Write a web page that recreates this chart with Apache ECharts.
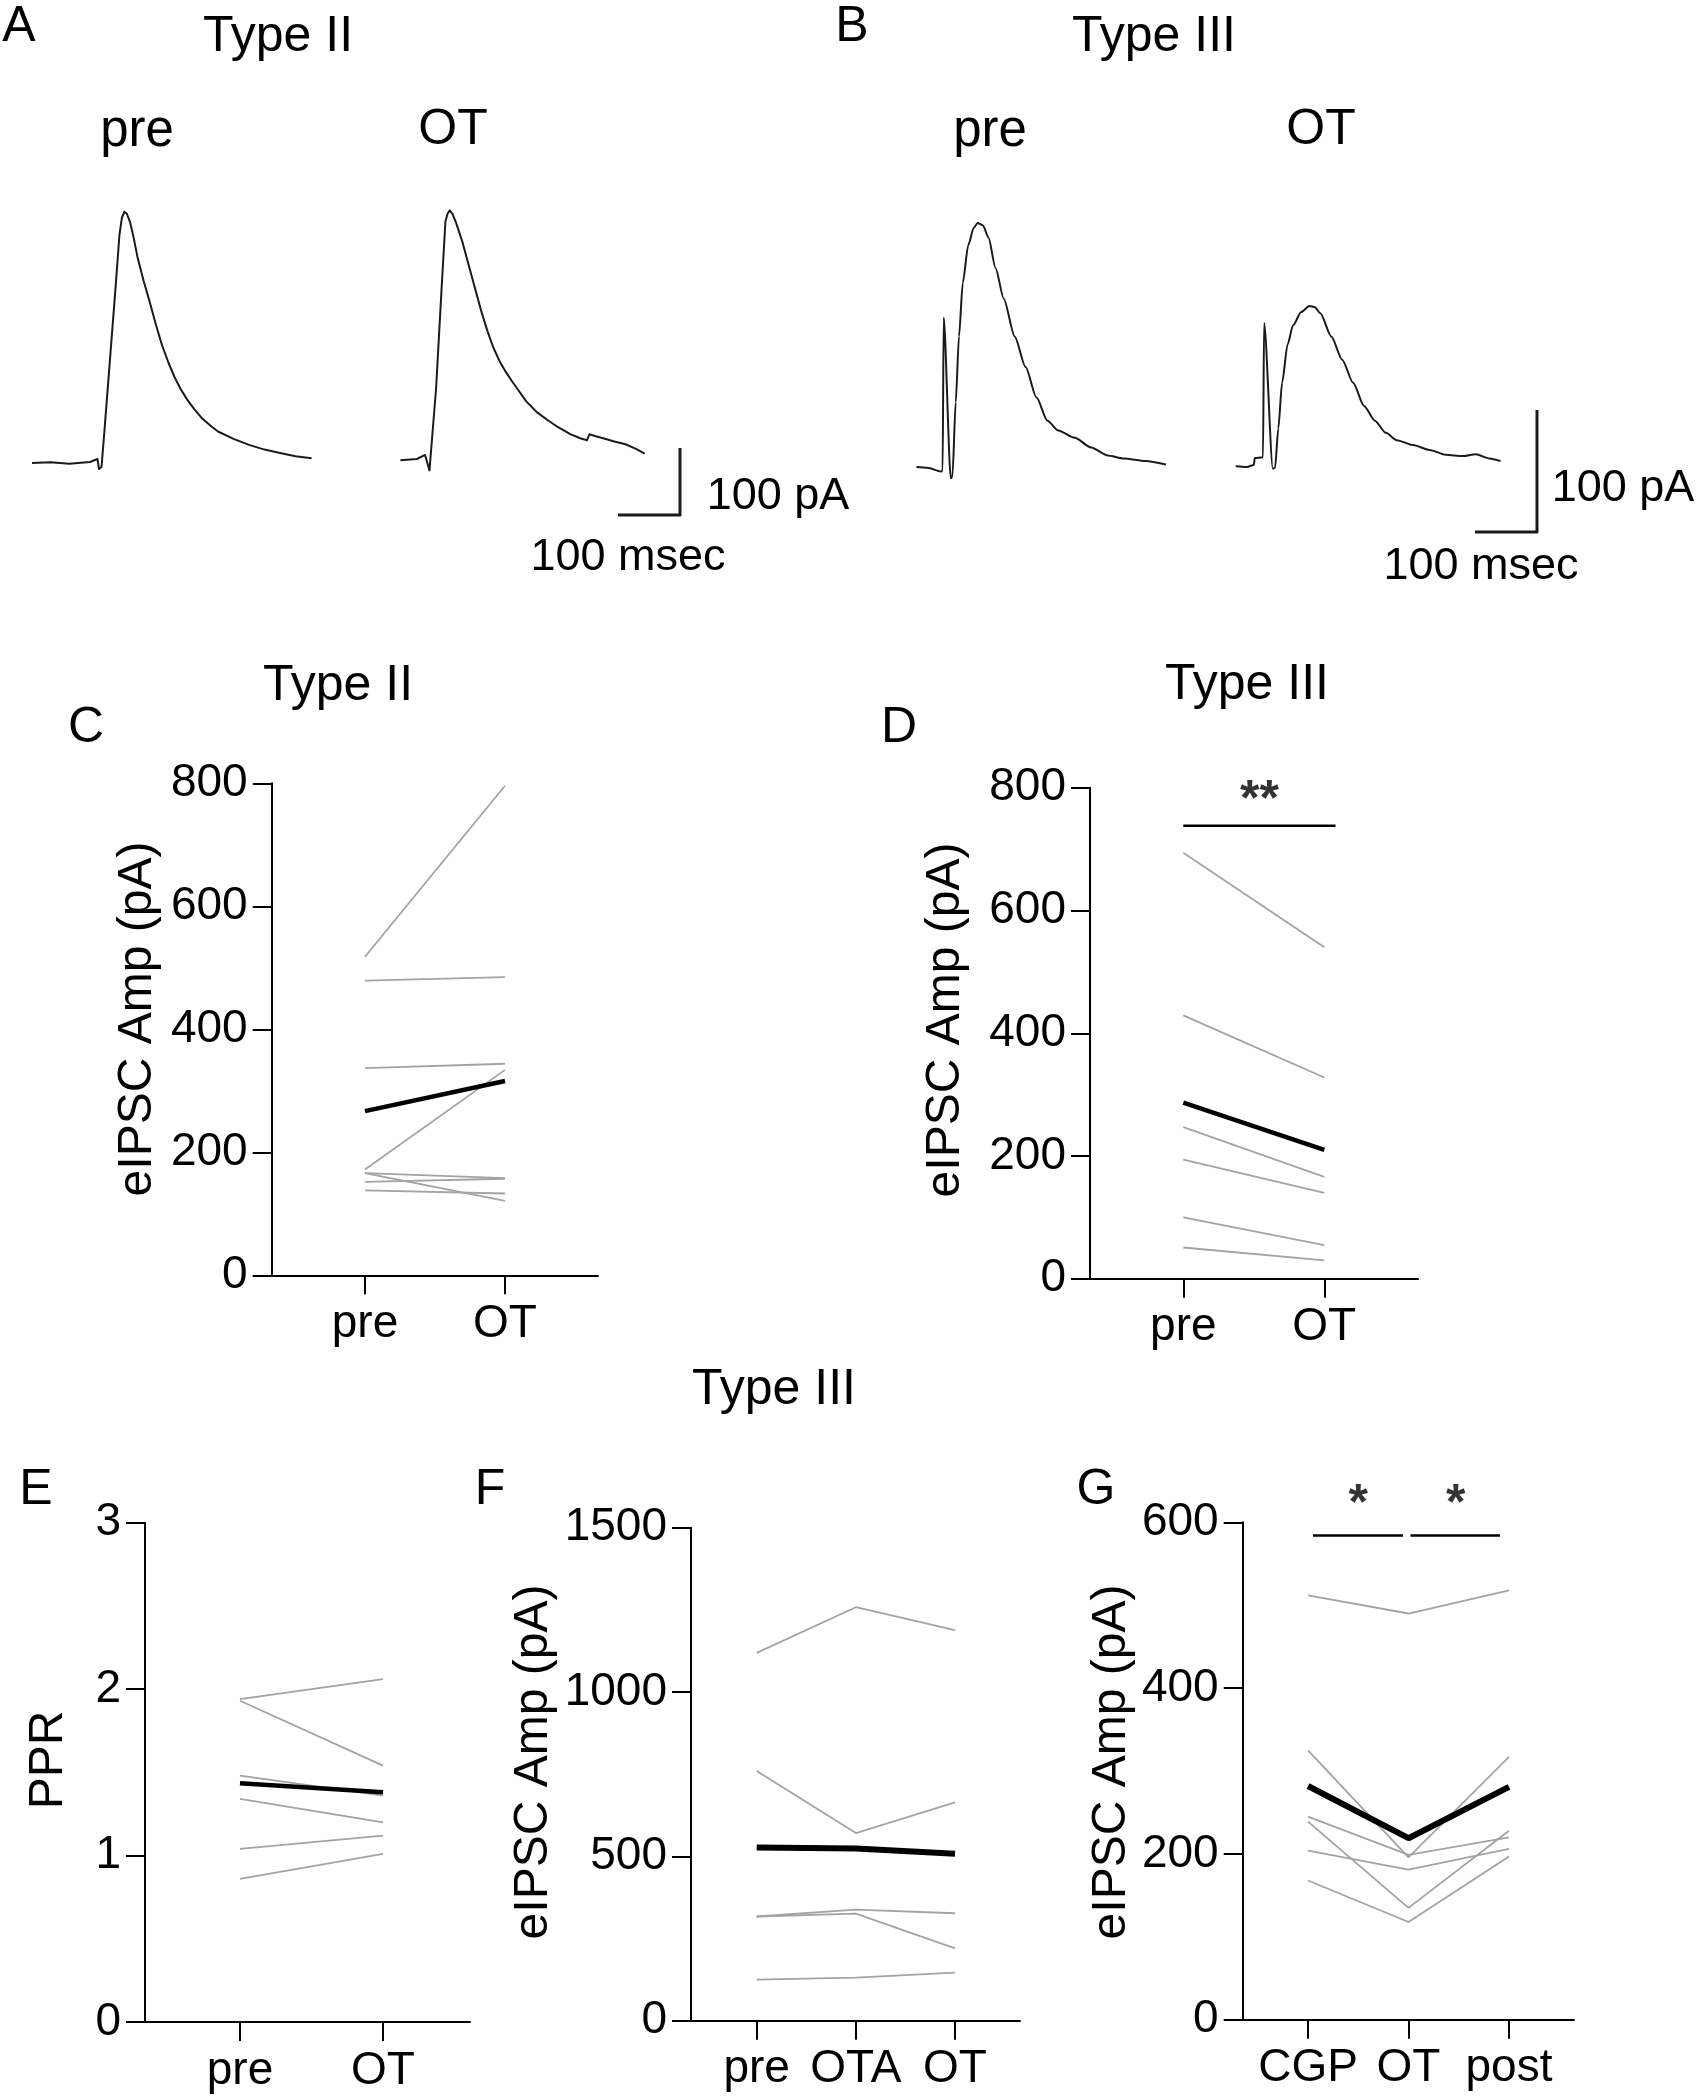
<!DOCTYPE html>
<html><head><meta charset="utf-8">
<script src="https://cdn.jsdelivr.net/npm/echarts@6/dist/echarts.min.js"></script>
<style>html,body{margin:0;padding:0;background:#fff}#chart{width:1696px;height:2100px}</style>
</head><body><div id="chart"></div>
<script>
// ---------- DATA ----------
// Panel C (Type II) eIPSC amplitude, pA
const cCats = ['pre', 'OT'];
const cPre  = [518, 479, 337, 172, 166, 166, 152, 138];
const cOT   = [796, 485, 344, 334, 121, 158, 157, 133];
const cMean = [267, 316];
// Panel D (Type III) eIPSC amplitude, pA
const dCats = ['pre', 'OT'];
const dPre  = [694, 429, 247, 194, 100, 51];
const dOT   = [540, 328, 166, 140, 55, 30];
const dMean = [287, 210];
// Panel E PPR
const eCats = ['pre', 'OT'];
const ePre  = [1.94, 1.93, 1.48, 1.34, 1.04, 0.86];
const eOT   = [2.06, 1.54, 1.36, 1.20, 1.12, 1.01];
const eMean = [1.435, 1.38];
// Panel F eIPSC amplitude, pA
const fCats = ['pre', 'OTA', 'OT'];
const fPre  = [1119, 760, 317, 317, 125];
const fOTA  = [1258, 571, 338, 326, 131];
const fOT   = [1188, 664, 327, 220, 146];
const fMean = [527, 524, 508];
// Panel G eIPSC amplitude, pA
const gCats = ['CGP', 'OT', 'post'];
const gCGP  = [512, 325, 245, 239, 204, 168];
const gOT   = [490, 196, 199, 135, 181, 118];
const gPost = [518, 317, 220, 228, 206, 197];
const gMean = [282, 219, 281];
// significance bars: [from, to, level] and star labels: [text, x, level]
const dSig = [[1, 2.08, 738]];
const dStars = [['**', 1.54, 778]];
const gSig = [[1.05, 1.945, 584], [2.02, 2.91, 584]];
const gStars = [['*', 1.5, 621], ['*', 2.47, 621]];

// Example traces: [time ms, current pA]
const traceAPre = [[0,0],[30,1],[60,-1],[93.5,1.5],[105.6,6],[108.1,-9],[112.1,-6],[116.5,44],[125.3,149],[134.2,255],[141,340],[145,366],[149,375],[153,372],[158,360],[164,336],[170,308],[180,272],[190,240],[200,206],[210,175],[220,150],[230,128],[240,110],[250,95],[262,80],[275,66],[290,54],[300,47],[325,36],[350,27],[375,20],[400,15],[425,10],[451,7]];
const traceAOT  = [[0,4],[26.6,6],[39.8,12],[42.6,11],[46.9,-11],[49.7,-9],[57.6,112],[66.4,260],[72.6,360],[76,372],[79.7,377],[84,372],[90,358],[100,330],[110,296],[120,262],[130,228],[140,198],[150,172],[160,152],[170,136],[180,122],[190,109],[203,92],[220,76],[239,63],[255,53],[274,43],[290,37],[301,34],[305,43],[315,40],[327,37],[345,32],[363,28],[380,21],[394,14]];
const traceBPre = [[0,0],[17.6,-0.6],[39.7,-3.7],[42.3,-3],[44,122.5],[55.5,-9.3],[58.1,-7.8],[63.4,53],[68.7,107],[74.8,151],[83.7,182],[92.4,196],[98.7,200],[107.4,198],[116.3,188],[127.7,163],[140.9,138],[158.5,107],[176.1,82],[193.7,57],[211.3,38],[228.9,30],[255.3,24],[281.8,16],[308.2,9.5],[334.5,7],[369.8,5],[402.4,2]];
const traceBOT  = [[0,0.7],[17.7,0.1],[29.2,1.6],[30.8,7.3],[44,8],[45.8,118],[60,-1.5],[63.5,-0.6],[68.7,31.5],[74.8,69],[83.7,100.5],[92.4,116],[105.6,127],[118.9,132],[127.7,131],[136.5,126],[154.2,107],[171.8,88],[189.4,69],[207,50],[224.5,38],[242.1,28],[259.8,22],[286.1,18],[312.6,14],[339,10],[365.5,9],[387.4,10.4],[409.4,7],[427.1,4.8]];
// scale bars: 100 ms x 100 pA
const scaleBar = [[-100, 0], [0, 0], [0, 100]];

// ---------- LAYOUT / STYLE ----------
const FF = 'Liberation Sans, Arial, Helvetica, sans-serif';
const FS = 46;
const GRAY = '#a3a3a3';
const AX = {color: '#000', width: 2};

const plots = [
  {g: [271.7, 783.3, 326.3, 492], x: [0.334, 2.664], y: [0, 800, 200], cats: cCats, subj: [cPre, cOT], mean: cMean, mw: 4.5},
  {g: [1090, 787.7, 328, 491.1], x: [0.338, 2.665], y: [0, 800, 200], cats: dCats, subj: [dPre, dOT], mean: dMean, mw: 4.5,
   sig: dSig, stars: dStars},
  {g: [145, 1522.7, 325, 499.3], x: [0.336, 2.608], y: [0, 3, 1], cats: eCats, subj: [ePre, eOT], mean: eMean, mw: 4.5},
  {g: [691, 1527.7, 329, 493], x: [0.338, 3.655], y: [0, 1500, 500], cats: fCats, subj: [fPre, fOTA, fOT], mean: fMean, mw: 6},
  {g: [1242.7, 1522.3, 331.3, 497.5], x: [0.35, 3.647], y: [0, 600, 200], cats: gCats, subj: [gCGP, gOT, gPost], mean: gMean, mw: 6,
   sig: gSig, stars: gStars}
];

// trace grids: left, baseline y, px per ms, px per pA, data, x range, y range
const traces = [
  {left: 32,     base: 463, pms: 0.62, ppa: 0.67, data: traceAPre, xr: [0, 460], yr: [-20, 400], w: 2, sm: 0},
  {left: 400.4,  base: 463, pms: 0.62, ppa: 0.67, data: traceAOT,  xr: [0, 460], yr: [-20, 400], w: 2, sm: 0},
  {left: 680,    base: 515, pms: 0.62, ppa: 0.67, data: scaleBar,  xr: [-100, 0], yr: [0, 100], w: 3, sm: 0},
  {left: 916.4,  base: 467, pms: 0.62, ppa: 1.22, data: traceBPre, xr: [0, 430], yr: [-20, 220], w: 2, sm: 0.25},
  {left: 1235.7, base: 467, pms: 0.62, ppa: 1.22, data: traceBOT,  xr: [0, 430], yr: [-20, 220], w: 2, sm: 0.25},
  {left: 1537,   base: 532, pms: 0.62, ppa: 1.22, data: scaleBar,  xr: [-100, 0], yr: [0, 100], w: 3, sm: 0}
];

// [text, x, y, fontSize]
const texts = [
  ['A', 19, 27, 50], ['Type II', 278, 37, 50], ['pre', 137, 132, 51], ['OT', 453, 130, 50],
  ['B', 852, 27, 50], ['Type III', 1154, 37, 50], ['pre', 990, 132, 51], ['OT', 1321, 130, 50],
  ['100 pA', 778, 497, 45], ['100 msec', 628, 558, 45],
  ['100 pA', 1623, 489, 45], ['100 msec', 1481, 567, 45],
  ['Type II', 338, 686, 50], ['C', 86, 728, 50],
  ['Type III', 1247, 685, 50], ['D', 899, 728, 50],
  ['Type III', 774, 1390, 50],
  ['E', 36, 1490, 50], ['F', 490, 1490, 50], ['G', 1096, 1490, 50]
];
const yTitles = [
  ['eIPSC Amp (pA)', 138, 1019], ['eIPSC Amp (pA)', 946, 1020], ['PPR', 49, 1760],
  ['eIPSC Amp (pA)', 534, 1762], ['eIPSC Amp (pA)', 1112, 1762]
];

// ---------- BUILD ----------
const grid = [], xAxis = [], yAxis = [], series = [];

plots.forEach((p, i) => {
  grid.push({left: p.g[0], top: p.g[1], width: p.g[2], height: p.g[3], outerBoundsMode: 'none', containLabel: false});
  const ticks = p.cats.map((c, k) => k + 1);
  xAxis.push({
    type: 'value', gridIndex: i, min: p.x[0], max: p.x[1],
    axisLine: {show: true, onZero: false, lineStyle: AX},
    axisTick: {show: true, length: 19, lineStyle: AX, customValues: ticks},
    axisLabel: {show: true, customValues: ticks, formatter: v => p.cats[Math.round(v) - 1] || '',
      fontSize: FS, fontFamily: FF, color: '#000', margin: 26},
    splitLine: {show: false}
  });
  yAxis.push({
    type: 'value', gridIndex: i, min: p.y[0], max: p.y[1], interval: p.y[2],
    axisLine: {show: true, lineStyle: AX},
    axisTick: {show: true, length: 19, lineStyle: AX},
    axisLabel: {fontSize: FS, fontFamily: FF, color: '#000', margin: 24, formatter: v => String(v)},
    splitLine: {show: false}
  });
  const n = p.subj[0].length;
  for (let s = 0; s < n; s++) {
    series.push({type: 'line', xAxisIndex: i, yAxisIndex: i, symbol: 'none', silent: true, z: 2,
      lineStyle: {color: GRAY, width: 1.8},
      data: p.subj.map((col, k) => [k + 1, col[s]])});
  }
  series.push({type: 'line', xAxisIndex: i, yAxisIndex: i, symbol: 'none', silent: true, z: 3,
    lineStyle: {color: '#000', width: p.mw},
    data: p.mean.map((v, k) => [k + 1, v])});
  (p.sig || []).forEach(b => {
    series.push({type: 'line', xAxisIndex: i, yAxisIndex: i, symbol: 'none', silent: true, z: 3,
      lineStyle: {color: '#000', width: 2.5}, data: [[b[0], b[2]], [b[1], b[2]]]});
  });
  (p.stars || []).forEach(st => {
    series.push({type: 'scatter', xAxisIndex: i, yAxisIndex: i, symbolSize: 1, silent: true, z: 4, clip: false,
      itemStyle: {color: 'rgba(0,0,0,0)'},
      label: {show: true, position: 'inside', formatter: st[0], fontSize: 50, fontWeight: 'bold', fontFamily: FF, color: '#000'},
      labelLayout: {hideOverlap: false},
      data: [[st[1], st[2]]]});
  });
});

traces.forEach((t, j) => {
  const i = plots.length + j;
  const width = (t.xr[1] - t.xr[0]) * t.pms;
  const height = (t.yr[1] - t.yr[0]) * t.ppa;
  const left = t.left + t.xr[0] * t.pms;
  const top = t.base - t.yr[1] * t.ppa;
  grid.push({left, top, width, height, outerBoundsMode: 'none', containLabel: false});
  xAxis.push({type: 'value', gridIndex: i, min: t.xr[0], max: t.xr[1], show: false});
  yAxis.push({type: 'value', gridIndex: i, min: t.yr[0], max: t.yr[1], show: false});
  series.push({type: 'line', xAxisIndex: i, yAxisIndex: i, symbol: 'none', silent: true, clip: false,
    smooth: t.sm ? t.sm : false, smoothMonotone: 'x',
    lineStyle: {color: '#1a1a1a', width: t.w, join: 'round'}, data: t.data});
});

const graphic = texts.map(t => ({type: 'text', x: t[1], y: t[2], silent: true,
  style: {text: t[0], fontSize: t[3], fontFamily: FF, fill: '#000', textAlign: 'center', textVerticalAlign: 'middle'}}))
  .concat(yTitles.map(t => ({type: 'text', x: t[1], y: t[2], rotation: Math.PI / 2, silent: true,
  style: {text: t[0], fontSize: 48, fontFamily: FF, fill: '#000', textAlign: 'center', textVerticalAlign: 'middle'}})));

const chart = echarts.init(document.getElementById('chart'), null, {renderer: 'canvas', width: 1696, height: 2100});
chart.setOption({animation: false, backgroundColor: '#fff', grid, xAxis, yAxis, series, graphic});
</script></body></html>
